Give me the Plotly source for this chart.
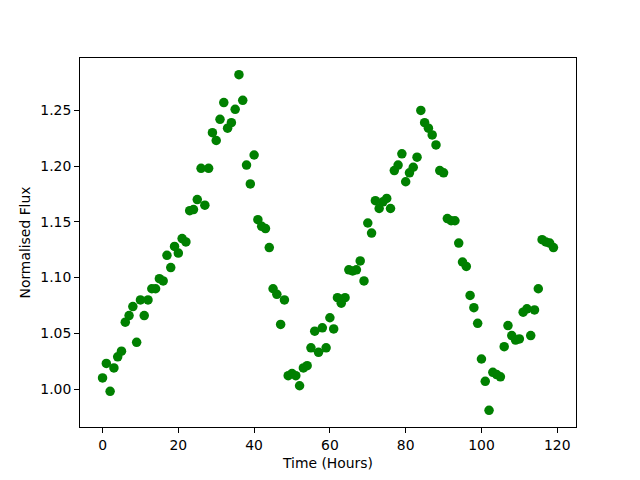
import plotly.graph_objects as go

hours = list(range(120))
flux = [
    1.010, 1.023, 0.998, 1.019, 1.029, 1.034, 1.060, 1.066, 1.074, 1.042,
    1.080, 1.066, 1.080, 1.090, 1.090, 1.099, 1.097, 1.120, 1.109, 1.128,
    1.122, 1.135, 1.132, 1.160, 1.161, 1.170, 1.198, 1.165, 1.198, 1.230,
    1.223, 1.242, 1.257, 1.234, 1.239, 1.251, 1.282, 1.259, 1.201, 1.184,
    1.210, 1.152, 1.146, 1.144, 1.127, 1.090, 1.085, 1.058, 1.080, 1.012,
    1.014, 1.012, 1.003, 1.019, 1.021, 1.037, 1.052, 1.033, 1.055, 1.037,
    1.064, 1.054, 1.082, 1.077, 1.082, 1.107, 1.106, 1.107, 1.115, 1.097,
    1.149, 1.140, 1.169, 1.162, 1.168, 1.171, 1.162, 1.196, 1.201, 1.211,
    1.186, 1.194, 1.199, 1.208, 1.250, 1.239, 1.234, 1.228, 1.219, 1.196,
    1.194, 1.153, 1.151, 1.151, 1.131, 1.114, 1.110, 1.084, 1.073, 1.059,
    1.027, 1.007, 0.981, 1.015, 1.013, 1.011, 1.038, 1.057, 1.048, 1.044,
    1.045, 1.069, 1.072, 1.048, 1.071, 1.090, 1.134, 1.132, 1.131, 1.127,
]
x_ticks = [0, 20, 40, 60, 80, 100, 120]
y_ticks = [1.00, 1.05, 1.10, 1.15, 1.20, 1.25]

fig = go.Figure(go.Scatter(
    x=hours, y=flux, mode="markers",
    marker=dict(color="#008000", size=9.5, line=dict(width=0)),
))

axis_common = dict(
    showline=True, mirror=True, linecolor="black", linewidth=1.1,
    ticks="outside", ticklen=4.9, tickwidth=1.1, tickcolor="black",
    showgrid=False, zeroline=False,
    tickfont=dict(family="DejaVu Sans", size=13.9, color="black"),
)

fig.update_layout(
    width=640, height=480,
    margin=dict(l=72, r=72, t=50, b=61),
    paper_bgcolor="white", plot_bgcolor="white",
    showlegend=False,
    font=dict(family="DejaVu Sans", size=13.9, color="black"),
    xaxis=dict(range=[-5.95, 124.95], tickvals=x_ticks,
               title=dict(text="Time (Hours)", standoff=6,
                          font=dict(family="DejaVu Sans", size=13.9)),
               **axis_common),
    yaxis=dict(range=[0.966, 1.297], tickvals=y_ticks, tickformat=".2f",
               title=dict(text="Normalised Flux", standoff=6,
                          font=dict(family="DejaVu Sans", size=13.9)),
               **axis_common),
)

fig.write_html("out.html")
